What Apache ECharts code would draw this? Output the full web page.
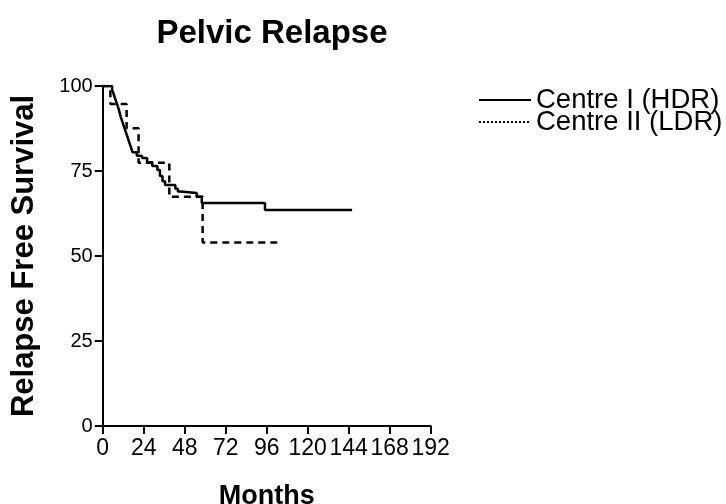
<!DOCTYPE html>
<html>
<head>
<meta charset="utf-8">
<script src="https://cdn.jsdelivr.net/npm/echarts@6/dist/echarts.min.js"></script>
<style>
  html, body { margin: 0; padding: 0; background: #fff; }
  #main { width: 726px; height: 504px; }
</style>
</head>
<body>
<div id="main"></div>
<script>
// x ticks in months, y in percent
var monthTicks = [0, 24, 48, 72, 96, 120, 144, 168, 192];
var seriesNames = ["Centre I (HDR)", "Centre II (LDR)"];

// Centre I (HDR): [month, relapse free %]
var hdrSurvival = [
    [0, 100], [5.5, 99], [6.5, 97.5], [7.5, 96], [8.5, 94.5], [9.5, 93],
    [10.5, 91], [11.5, 89.5], [12.5, 88], [13.5, 86.5], [14.5, 85],
    [15.5, 83.5], [16.5, 82], [17.5, 80.5], [20, 79.5], [23, 78.8],
    [26, 77.6], [29, 76.5], [32, 75.3], [33.5, 73.5], [35, 72],
    [36.5, 70.9], [42.5, 69.8], [44, 69], [45.5, 68.5], [55, 67.4],
    [58, 65.6], [95, 63.5], [146, 63.5]
];

// Centre II (LDR)
var ldrSurvival = [
    [0, 100], [4.5, 94.7], [14, 87.6], [21, 77.4], [39, 67.4],
    [58.5, 54], [103, 54]
];

var chart = echarts.init(document.getElementById("main"));

var legendText = {
    fontFamily: "Liberation Sans",
    fontSize: 27.5,
    color: "#000"
};

var option = {
    backgroundColor: "#fff",
    animation: false,
    title: {
        text: "Pelvic Relapse",
        left: 267,
        top: 12,
        textAlign: "center",
        textStyle: {
            fontFamily: "Liberation Sans",
            fontSize: 33,
            fontWeight: "bold",
            color: "#000"
        }
    },
    // two legends so the rows can sit as close as in the original
    legend: [
        {
            left: 478,
            top: 86,
            padding: 0,
            itemWidth: 52,
            itemHeight: 14,
            itemStyle: { opacity: 0 },
            textStyle: legendText,
            data: [{ name: seriesNames[0] }]
        },
        {
            left: 478,
            top: 108,
            padding: 0,
            itemWidth: 52,
            itemHeight: 14,
            itemStyle: { opacity: 0 },
            textStyle: legendText,
            data: [{ name: seriesNames[1], lineStyle: { type: "dotted", width: 2 } }]
        }
    ],
    grid: {
        left: 102.7,
        right: 295.3,
        top: 86,
        bottom: 78,
        outerBoundsMode: "none"
    },
    xAxis: {
        type: "value",
        min: 0,
        max: 192,
        interval: 24,
        name: "Months",
        nameLocation: "middle",
        nameGap: 57,
        nameTextStyle: {
            fontFamily: "Liberation Sans",
            fontSize: 27,
            fontWeight: "bold",
            color: "#000"
        },
        axisLine: { lineStyle: { color: "#000", width: 2 } },
        axisTick: { inside: false, length: 8, lineStyle: { color: "#000", width: 2 } },
        axisLabel: {
            fontFamily: "Liberation Sans",
            fontSize: 23,
            color: "#000",
            margin: 11,
            formatter: function (v) { return monthTicks.indexOf(v) >= 0 ? String(v) : ""; }
        },
        splitLine: { show: false }
    },
    yAxis: {
        type: "value",
        min: 0,
        max: 100,
        interval: 25,
        name: "Relapse Free Survival",
        nameLocation: "middle",
        nameRotate: 90,
        nameGap: 63,
        nameTextStyle: {
            fontFamily: "Liberation Sans",
            fontSize: 31,
            fontWeight: "bold",
            color: "#000"
        },
        axisLine: { show: true, lineStyle: { color: "#000", width: 2 } },
        axisTick: { show: true, length: 8, lineStyle: { color: "#000", width: 2 } },
        axisLabel: {
            fontFamily: "Liberation Sans",
            fontSize: 20,
            color: "#000",
            margin: 10
        },
        splitLine: { show: false }
    },
    series: [
        {
            name: seriesNames[0],
            type: "line",
            step: "end",
            symbol: "none",
            lineStyle: { color: "#000", width: 2.5 },
            itemStyle: { color: "#000" },
            data: hdrSurvival
        },
        {
            name: seriesNames[1],
            type: "line",
            step: "end",
            symbol: "none",
            lineStyle: { color: "#000", width: 2.5, type: [7, 5] },
            itemStyle: { color: "#000" },
            data: ldrSurvival
        }
    ]
};

chart.setOption(option);
</script>
</body>
</html>
